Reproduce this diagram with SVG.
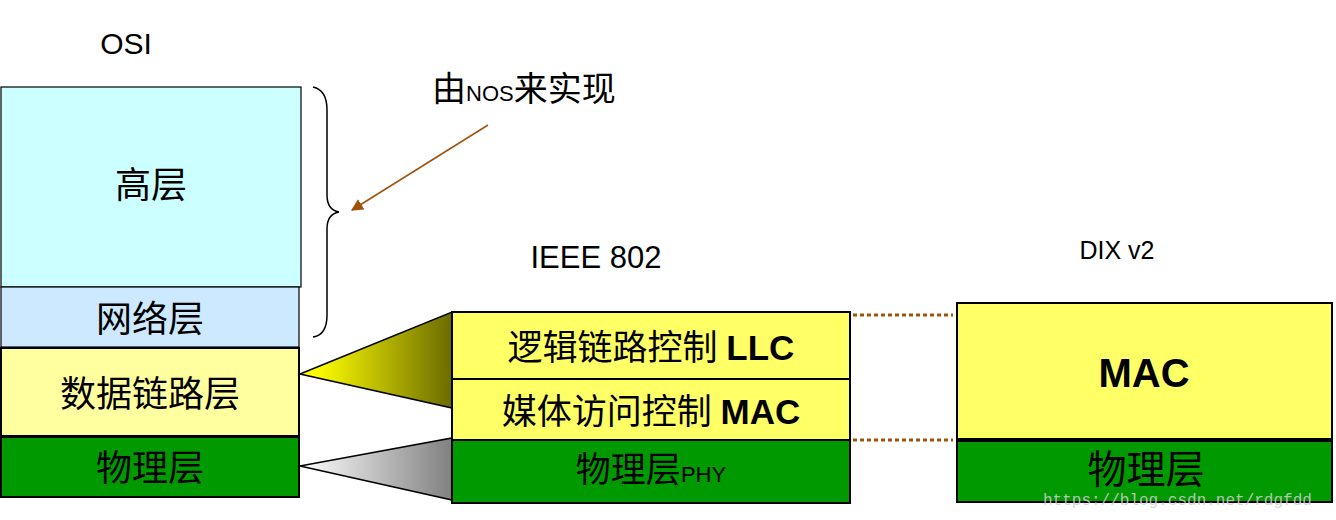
<svg xmlns="http://www.w3.org/2000/svg" width="1336" height="520" viewBox="0 0 1336 520">
<style>
.cn{font-family:"Liberation Serif","Noto Sans CJK SC",serif;fill:#000}
.en{font-family:"Liberation Sans","Noto Sans CJK SC",sans-serif;fill:#000}
.b{stroke:#000;stroke-width:2}
</style>
<defs>
<linearGradient id="gy" x1="0" x2="1" y1="0" y2="0"><stop offset="0.1" stop-color="#ffff00"/><stop offset="1" stop-color="#6b6b00"/></linearGradient>
<linearGradient id="gg" x1="0" x2="1" y1="0" y2="0"><stop offset="0" stop-color="#ffffff"/><stop offset="1" stop-color="#808080"/></linearGradient>
<marker id="ar" viewBox="0 0 10 10" refX="9" refY="5" markerWidth="8" markerHeight="8" orient="auto"><path d="M0,0L10,5L0,10z" fill="#a0520a"/></marker>
</defs>
<rect width="1336" height="520" fill="#fff"/>
<text class="en" x="126" y="54" font-size="30" text-anchor="middle">OSI</text>
<g id="osi-high"><rect x="1" y="87" width="300" height="200" fill="#ccffff" stroke="#000" stroke-width="1.2"/><text class="cn" x="151" y="198" font-size="36" text-anchor="middle">高层</text></g>
<g id="osi-net"><rect x="1" y="287" width="298" height="60" fill="#cce9ff" stroke="#000" stroke-width="1.2"/><text class="cn" x="150" y="332" font-size="36" text-anchor="middle">网络层</text></g>
<g id="osi-dl"><rect x="1" y="348" width="298" height="88" class="b" fill="#ffffa0"/><text class="cn" x="150" y="407" font-size="36" text-anchor="middle">数据链路层</text></g>
<g id="osi-phy"><rect x="1" y="437" width="298" height="60" class="b" fill="#009900"/><text class="cn" x="150" y="481" font-size="36" text-anchor="middle">物理层</text></g>
<g id="brace"><path d="M313,87 Q327,90 327,110 L327,195 Q327,210 339,212 Q327,214 327,229 L327,315 Q327,335 313,337" fill="none" stroke="#000" stroke-width="1.5"/></g>
<text x="432" y="101" font-size="34"><tspan class="cn">由</tspan><tspan class="en" font-size="22">NOS</tspan><tspan class="cn">来实现</tspan></text>
<text class="en" x="596" y="268" font-size="31" text-anchor="middle">IEEE 802</text>
<text class="en" x="1117" y="259" font-size="25" text-anchor="middle">DIX v2</text>
<g id="connectors">
<line x1="488" y1="125" x2="352" y2="210" stroke="#a0520a" stroke-width="1.5" marker-end="url(#ar)"/>
<polygon points="300,374 452,312 452,408" fill="url(#gy)" stroke="#000" stroke-width="1.5"/>
<polygon points="300,466 452,438 452,500" fill="url(#gg)" stroke="#000" stroke-width="1.5"/>
<line x1="853" y1="315" x2="953" y2="315" stroke="#a0520a" stroke-width="3" stroke-dasharray="4,3"/>
<line x1="853" y1="440" x2="953" y2="440" stroke="#a0520a" stroke-width="3" stroke-dasharray="4,3"/>
</g>
<g id="ieee-llc"><rect x="452" y="312" width="398" height="67" class="b" fill="#ffff66"/><text x="651" y="360" font-size="35" text-anchor="middle"><tspan class="cn">逻辑链路控制 </tspan><tspan class="en" font-weight="bold">LLC</tspan></text></g>
<g id="ieee-mac"><rect x="452" y="379" width="398" height="61" class="b" fill="#ffff66"/><text x="651" y="424" font-size="35" text-anchor="middle"><tspan class="cn">媒体访问控制 </tspan><tspan class="en" font-weight="bold">MAC</tspan></text></g>
<g id="ieee-phy"><rect x="452" y="440" width="398" height="63" class="b" fill="#009900"/><text x="651" y="482" font-size="35" text-anchor="middle"><tspan class="cn">物理层</tspan><tspan class="en" font-size="22">PHY</tspan></text></g>
<g id="dix-mac"><rect x="957" y="303" width="375" height="136" class="b" fill="#ffff66"/><text class="en" x="1144" y="387" font-size="40" font-weight="bold" text-anchor="middle">MAC</text></g>
<g id="dix-phy"><rect x="957" y="441" width="375" height="61" class="b" fill="#009900"/><text class="cn" x="1146" y="483" font-size="39" text-anchor="middle">物理层</text></g>
<text x="1043" y="505" font-family="Liberation Mono,monospace" font-size="16" fill="#d0d0d0" opacity="0.85">https://blog.csdn.net/rdgfdd</text>
</svg>
